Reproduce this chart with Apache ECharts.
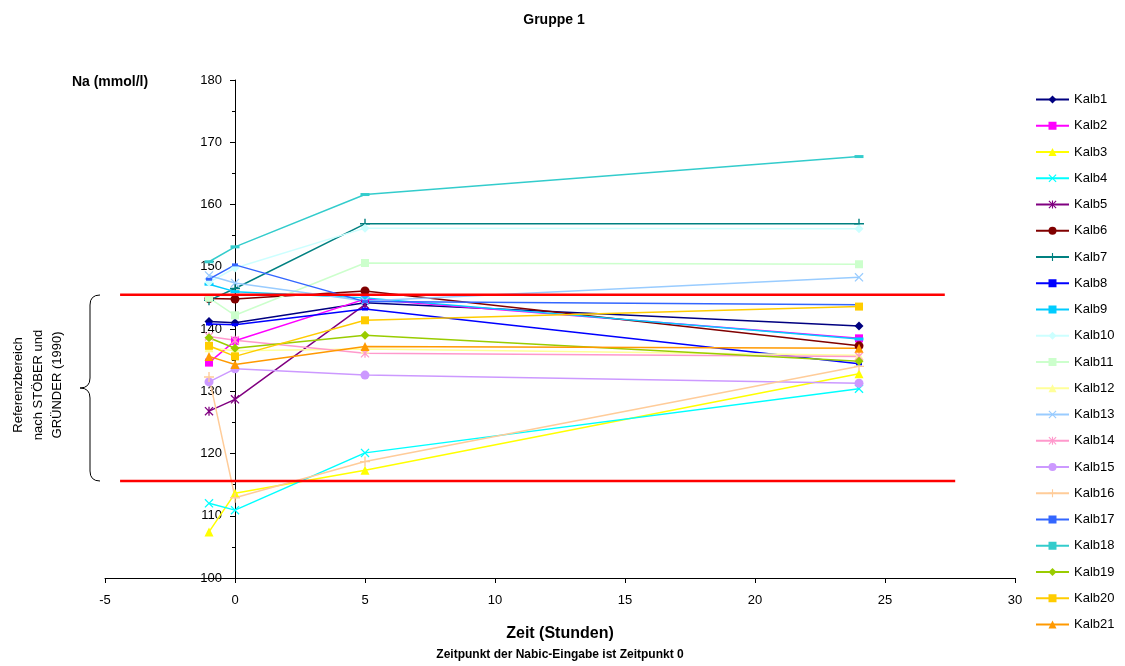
<!DOCTYPE html>
<html>
<head>
<meta charset="utf-8">
<script src="https://cdn.jsdelivr.net/npm/echarts@6/dist/echarts.min.js"></script>
<style>html,body{margin:0;padding:0;background:#fff}#c{width:1125px;height:666px}</style>
</head>
<body>
<div id="c"></div>
<script>
// time points (hours)
var times = [-1, 0, 5, 24];
// Na values (mmol/l) per calf
var kalb1  = [141.2, 141.0, 144.2, 140.5];
var kalb2  = [134.6, 138.1, 144.8, 138.5];
var kalb3  = [107.4, 113.6, 117.3, 132.8];
var kalb4  = [112.0, 110.9, 120.1, 130.4];
var kalb5  = [126.8, 128.7, 143.9, null];
var kalb6  = [144.9, 144.8, 146.1, 137.3];
var kalb7  = [144.6, 146.5, 156.9, 156.9];
var kalb8  = [140.8, 140.7, 143.2, 134.4];
var kalb9  = [147.2, 146.0, 145.0, 138.4];
var kalb10 = [147.5, 149.8, 156.2, 156.1];
var kalb11 = [145.0, 142.2, 150.6, 150.4];
var kalb12 = [137.0, 136.5, 136.8, 135.8];
var kalb13 = [148.6, 147.4, 144.5, 148.3];
var kalb14 = [138.8, 138.2, 136.1, 135.6];
var kalb15 = [131.5, 133.6, 132.6, 131.3];
var kalb16 = [132.3, 112.9, 118.7, 134.0];
var kalb17 = [148.0, 150.3, 144.4, 143.9];
var kalb18 = [150.8, 153.2, 161.6, 167.7];
var kalb19 = [138.6, 136.9, 139.0, 134.8];
var kalb20 = [137.3, 135.6, 141.4, 143.6];
var kalb21 = [135.6, 134.3, 137.2, 136.9];
var seriesNames = ['Kalb1','Kalb2','Kalb3','Kalb4','Kalb5','Kalb6','Kalb7','Kalb8','Kalb9','Kalb10','Kalb11','Kalb12','Kalb13','Kalb14','Kalb15','Kalb16','Kalb17','Kalb18','Kalb19','Kalb20','Kalb21'];
var seriesValues = [kalb1,kalb2,kalb3,kalb4,kalb5,kalb6,kalb7,kalb8,kalb9,kalb10,kalb11,kalb12,kalb13,kalb14,kalb15,kalb16,kalb17,kalb18,kalb19,kalb20,kalb21];
// reference range lines (Referenzbereich)
var refUpper = [[-4.42, 145.5], [27.3, 145.5]];
var refLower = [[-4.42, 115.6], [27.7, 115.6]];
var xTicks = {min: -5, max: 30, interval: 5};
var yTicks = {min: 100, max: 180, interval: 10};

var colors = ['#000080','#FF00FF','#FFFF00','#00FFFF','#800080','#800000','#008080','#0000FF','#00CCFF','#CCFFFF','#CCFFCC','#FFFF99','#99CCFF','#FF99CC','#CC99FF','#FFCC99','#3366FF','#33CCCC','#99CC00','#FFCC00','#FF9900'];
var X = 'path://M0,1 L1,0 L5,4 L9,0 L10,1 L6,5 L10,9 L9,10 L5,6 L1,10 L0,9 L4,5 Z';
var PLUS = 'path://M4.3,0 H5.7 V4.3 H10 V5.7 H5.7 V10 H4.3 V5.7 H0 V4.3 H4.3 Z';
var STAR = 'path://M0,1 L1,0 L4.3,3.3 V0 H5.7 V3.3 L9,0 L10,1 L6,5 L10,9 L9,10 L5.7,6.7 V10 H4.3 V6.7 L1,10 L0,9 L4,5 Z';
var symbols = [
  ['diamond', 9], ['rect', 8], ['triangle', 9], [X, 9], [STAR, 9], ['circle', 9], [PLUS, 10],
  ['rect', [6, 3]], ['rect', [9, 3]], ['diamond', 9], ['rect', 8], ['triangle', 9], [X, 9], [STAR, 9],
  ['circle', 9], [PLUS, 10], ['rect', [6, 3]], ['rect', [9, 3]], ['diamond', 9], ['rect', 8], ['triangle', 9]
];

var series = seriesNames.map(function (n, i) {
  return {
    name: n, type: 'line',
    data: times.map(function (t, j) { return [t, seriesValues[i][j]]; }),
    connectNulls: false,
    symbol: symbols[i][0], symbolSize: symbols[i][1],
    lineStyle: {color: colors[i], width: 1.5},
    itemStyle: {color: colors[i], borderWidth: 0},
    emphasis: {disabled: true},
    animation: false, z: 2
  };
});
[refUpper, refLower].forEach(function (d) {
  series.push({
    type: 'line', data: d, symbol: 'none', silent: true, animation: false,
    lineStyle: {color: '#FF0000', width: 2.5}, z: 3
  });
});

var font = 'Liberation Sans, Arial, sans-serif';
function txt(x, y, s, size, bold) {
  return {type: 'text', x: x, y: y, silent: true,
    style: {text: s, align: 'center', verticalAlign: 'middle',
      font: (bold ? 'bold ' : '') + size + 'px ' + font, fill: '#000'}};
}
function brace() {
  var st = {stroke: '#000', lineWidth: 1, fill: null};
  return [
    {type: 'bezierCurve', shape: {x1: 100, y1: 295, x2: 90, y2: 305, cpx1: 90, cpy1: 295}, style: st, silent: true},
    {type: 'line', shape: {x1: 90, y1: 305, x2: 90, y2: 378}, style: st, silent: true},
    {type: 'bezierCurve', shape: {x1: 90, y1: 378, x2: 80, y2: 388, cpx1: 90, cpy1: 388}, style: st, silent: true},
    {type: 'bezierCurve', shape: {x1: 80, y1: 388, x2: 90, y2: 398, cpx1: 90, cpy1: 388}, style: st, silent: true},
    {type: 'line', shape: {x1: 90, y1: 398, x2: 90, y2: 471}, style: st, silent: true},
    {type: 'bezierCurve', shape: {x1: 90, y1: 471, x2: 100, y2: 481, cpx1: 90, cpy1: 481}, style: st, silent: true}
  ];
}

var chart = echarts.init(document.getElementById('c'), null, {renderer: 'canvas'});
chart.setOption({
  backgroundColor: '#fff',
  animation: false,
  color: colors,
  textStyle: {fontFamily: font},
  legend: {
    orient: 'vertical', left: 1030, top: 88,
    itemWidth: 33, itemHeight: 10, itemGap: 13.25,
    data: seriesNames,
    textStyle: {fontSize: 13, color: '#000', fontFamily: font},
    selectedMode: false
  },
  grid: {left: 105, right: 110, top: 80, bottom: 88, containLabel: false},
  xAxis: {
    type: 'value', min: xTicks.min, max: xTicks.max, interval: xTicks.interval,
    axisLine: {onZero: false, lineStyle: {color: '#000', width: 1}},
    axisTick: {show: true, length: 5, lineStyle: {color: '#000'}},
    axisLabel: {color: '#000', fontSize: 13, margin: 16, fontFamily: font},
    splitLine: {show: false}
  },
  yAxis: {
    type: 'value', min: yTicks.min, max: yTicks.max, interval: yTicks.interval,
    axisLine: {show: true, onZero: true, lineStyle: {color: '#000', width: 1}},
    axisTick: {show: true, length: 5, lineStyle: {color: '#000'}},
    minorTick: {show: true, splitNumber: 2, length: 3, lineStyle: {color: '#000'}},
    axisLabel: {color: '#000', fontSize: 13, margin: -117, fontFamily: font},
    splitLine: {show: false}
  },
  graphic: brace().concat([
    txt(554, 20, 'Gruppe 1', 14, true),
    txt(110, 82, 'Na (mmol/l)', 14, true),
    txt(560, 634, 'Zeit (Stunden)', 16, true),
    txt(560, 655, 'Zeitpunkt der Nabic-Eingabe ist Zeitpunkt 0', 12, true),
    {type: 'text', x: 38, y: 385, rotation: Math.PI / 2, silent: true,
     style: {text: 'Referenzbereich\nnach STÖBER und\nGRÜNDER (1990)', align: 'center', verticalAlign: 'middle',
       font: '13px ' + font, fill: '#000', lineHeight: 19.5}}
  ]),
  series: series
});
</script>
</body>
</html>
